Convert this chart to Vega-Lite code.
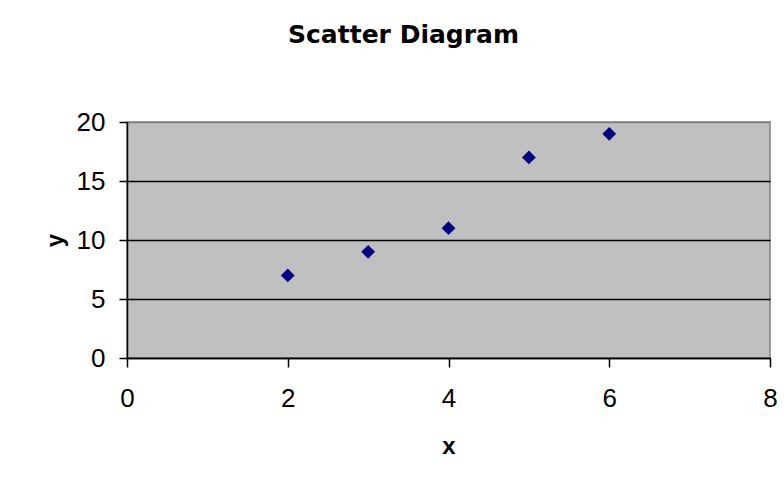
{
  "$schema": "https://vega.github.io/schema/vega-lite/v6.json",
  "width": 643,
  "height": 236,
  "autosize": {"type": "none"},
  "padding": {"left": 127, "top": 122, "right": 14, "bottom": 122},
  "background": "white",
  "title": {
    "text": "Scatter Diagram",
    "font": "DejaVu Sans",
    "fontSize": 25,
    "fontWeight": "bold",
    "color": "black",
    "anchor": "middle",
    "baseline": "alphabetic",
    "offset": 41,
    "dx": -45
  },
  "data": {
    "values": [
      {"x": 2, "y": 7},
      {"x": 3, "y": 9},
      {"x": 4, "y": 11},
      {"x": 5, "y": 17},
      {"x": 6, "y": 19}
    ]
  },
  "mark": {"type": "point", "shape": "diamond", "filled": true, "color": "#000080", "size": 190, "opacity": 1},
  "encoding": {
    "x": {
      "field": "x",
      "type": "quantitative",
      "scale": {"domain": [0, 8], "nice": false, "zero": false},
      "axis": {
        "values": [0, 2, 4, 6, 8],
        "grid": false,
        "domainColor": "black",
        "domainWidth": 1.5,
        "tickColor": "black",
        "tickWidth": 1.5,
        "tickSize": 9,
        "labelFont": "Liberation Sans",
        "labelFontSize": 26,
        "labelColor": "black",
        "labelPadding": 18,
        "labelFlush": false,
        "title": "x",
        "titleFont": "Liberation Sans",
        "titleFontSize": 24,
        "titleFontWeight": "bold",
        "titleColor": "black",
        "titlePadding": 23
      }
    },
    "y": {
      "field": "y",
      "type": "quantitative",
      "scale": {"domain": [0, 20], "nice": false},
      "axis": {
        "values": [0, 5, 10, 15, 20],
        "grid": true,
        "gridColor": {"condition": {"test": "datum.value == 20", "value": "#808080"}, "value": "black"},
        "gridWidth": 1.5,
        "gridOpacity": 1,
        "domainColor": "black",
        "domainWidth": 1.5,
        "tickColor": "black",
        "tickWidth": 1.5,
        "tickSize": 8,
        "labelFont": "Liberation Sans",
        "labelFontSize": 26,
        "labelColor": "black",
        "labelPadding": 14,
        "labelFlush": false,
        "title": "y",
        "titleFont": "Liberation Sans",
        "titleFontSize": 24,
        "titleFontWeight": "bold",
        "titleColor": "black",
        "titlePadding": 9
      }
    }
  },
  "config": {
    "view": {"fill": "#C0C0C0", "stroke": "#808080", "strokeWidth": 1.5}
  }
}
